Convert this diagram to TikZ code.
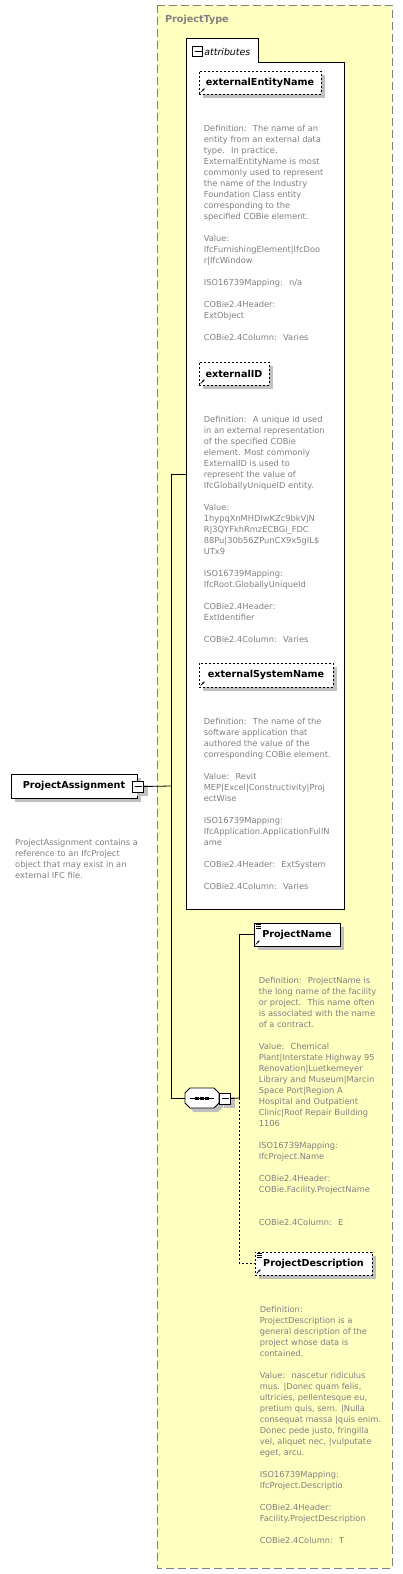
\documentclass[tikz,border=0pt]{standalone}
\usepackage{fontspec}
\setmainfont{DejaVu Sans}
\usetikzlibrary{positioning,shadows,arrows.meta}
\definecolor{frameyellow}{RGB}{255,255,192}
\definecolor{framegray}{RGB}{128,128,128}
\definecolor{docgray}{RGB}{128,128,128}
\definecolor{shadowgray}{RGB}{192,192,192}

\begin{document}
\begin{tikzpicture}[x=1pt,y=-1pt,
  every shadow/.style={shadow xshift=4pt,shadow yshift=-4pt,fill=shadowgray,opacity=1},
  elem/.style={draw,fill=white,line width=0.8pt,font=\bfseries\fontsize{9.6}{11}\selectfont,
    minimum height=23pt,inner sep=0pt,drop shadow},
  optelem/.style={elem,dash pattern=on 2pt off 2pt},
  doc/.style={anchor=north west,align=left,inner sep=0pt,text=docgray,
    font=\fontsize{8.3}{11}\selectfont},
  minusbox/.style={draw,fill=white,line width=0.8pt,minimum size=11pt,inner sep=0pt,
    path picture={\draw (path picture bounding box.west)++(2pt,0) -- ++(7pt,0);}},
  conn/.style={line width=0.8pt},
  optconn/.style={conn,dash pattern=on 2pt off 2pt}]
\useasboundingbox (0,0) rectangle (403,1574);

% complex type frame
\draw[fill=frameyellow,draw=framegray,line width=1pt,dash pattern=on 8pt off 4pt] (157,5) rectangle (392,1568);
\node[anchor=west,text=framegray,font=\bfseries\fontsize{9.6}{11}\selectfont,inner sep=0pt] (ptype) at (165,19.5) {ProjectType};

% attributes group
\draw[fill=white,line width=0.8pt] (186,909) -- (186,38) -- (258,38) -- (258,62) -- (344,62) -- (344,909) -- cycle;
\node[minusbox,line width=1.4pt,minimum size=10pt] (attmin) at (197.5,51.5) {};
\node[anchor=west,inner sep=0pt,font=\itshape\fontsize{9.4}{11}\selectfont] (attlbl) at ([xshift=1pt]attmin.east) {attributes};
\coordinate (attin) at (186,474);

% root element
\node[elem,minimum width=126pt,minimum height=24pt] (pa) at (74,786) {ProjectAssignment};
\node[minusbox,drop shadow] (pamin) at (138,786.5) {};
\node[doc] (padoc) at (15,839) {ProjectAssignment contains a\\reference to an IfcProject\\object that may exist in an\\external IFC file.};

% attributes
\node[optelem,minimum width=122pt] (extEntity) at (260,82.5) {externalEntityName};
\node[doc] (extEntityDoc) at ([shift={(5,31)}]extEntity.south west) {Definition:~ The name of an\\entity from an external data\\type.~ In practice,\\ExternalEntityName is most\\commonly used to represent\\the name of the Industry\\Foundation Class entity\\corresponding to the\\specified COBie element.\\[11pt]Value:\\IfcFurnishingElement|IfcDoo\\r|IfcWindow\\[11pt]ISO16739Mapping:~ n/a\\[11pt]COBie2.4Header:\\ExtObject\\[11pt]COBie2.4Column:~ Varies};

\node[optelem,minimum width=70pt] (extID) at (234,373.5) {externalID};
\node[doc] (extIDDoc) at ([shift={(5,31)}]extID.south west) {Definition:~ A unique id used\\in an external representation\\of the specified COBie\\element. Most commonly\\ExternalID is used to\\represent the value of\\IfcGloballyUniqueID entity.\\[11pt]Value:\\1hypqXnMHDlwKZc9bkVjN\\R|3QYFkhRmzECBGi\_FDC\\88Pu|30b56ZPunCX9x5gIL\$\\UTx9\\[11pt]ISO16739Mapping:\\IfcRoot.GloballyUniqueId\\[11pt]COBie2.4Header:\\ExtIdentifier\\[11pt]COBie2.4Column:~ Varies};

\node[optelem,minimum width=134pt,minimum height=24pt] (extSystem) at (266,675) {externalSystemName};
\node[doc] (extSystemDoc) at ([shift={(5,31)}]extSystem.south west) {Definition:~ The name of the\\software application that\\authored the value of the\\corresponding COBie element.\\[11pt]Value:~ Revit\\MEP|Excel|Constructivity|Proj\\ectWise\\[11pt]ISO16739Mapping:\\IfcApplication.ApplicationFullN\\ame\\[11pt]COBie2.4Header:~ ExtSystem\\[11pt]COBie2.4Column:~ Varies};

% sequence
\fill[shadowgray] (194,1092) -- (218,1092) -- (223,1097) -- (223,1107) -- (218,1112) -- (194,1112) -- (189,1107) -- (189,1097) -- cycle;
\draw[fill=white,line width=0.8pt] (190,1088) -- (214,1088) -- (219,1093) -- (219,1103) -- (214,1108) -- (190,1108) -- (185,1103) -- (185,1093) -- cycle;
\node[minimum width=34pt,minimum height=20pt,inner sep=0pt] (seq) at (202,1098) {};
\draw[conn] ([xshift=5pt]seq.west) -- ([xshift=-5pt]seq.east);
\foreach \dx in {-5,0,5}
  \fill ([xshift=\dx pt]seq.center) +(-1.8pt,-1.5pt) rectangle +(1.8pt,1.5pt);
\node[minusbox,drop shadow] (seqmin) at (225,1098.5) {};

% child elements
\node[elem,minimum width=86pt] (pname) at (297,934.5) {ProjectName};
\node[doc] (pnameDoc) at ([shift={(5,31)}]pname.south west) {Definition:~ ProjectName is\\the long name of the facility\\or project.~ This name often\\is associated with the name\\of a contract.\\[11pt]Value:~ Chemical\\Plant|Interstate Highway 95\\Renovation|Luetkemeyer\\Library and Museum|Marcin\\Space Port|Region A\\Hospital and Outpatient\\Clinic|Roof Repair Building\\1106\\[11pt]ISO16739Mapping:\\IfcProject.Name\\[11pt]COBie2.4Header:\\COBie.Facility.ProjectName\\[22pt]COBie2.4Column:~ E};

\node[optelem,minimum width=117pt] (pdesc) at (313.5,1263.5) {ProjectDescription};
\node[doc] (pdescDoc) at ([shift={(5,31)}]pdesc.south west) {Definition:\\ProjectDescription is a\\general description of the\\project whose data is\\contained.\\[11pt]Value:~ nascetur ridiculus\\mus. |Donec quam felis,\\ultricies, pellentesque eu,\\pretium quis, sem. |Nulla\\consequat massa |quis enim.\\Donec pede justo, fringilla\\vel, aliquet nec, |vulputate\\eget, arcu.\\[11pt]ISO16739Mapping:\\IfcProject.Descriptio\\[11pt]COBie2.4Header:\\Facility.ProjectDescription\\[11pt]COBie2.4Column:~ T};

% icons
\foreach \n in {extEntity,extID,extSystem,pname,pdesc}
  \draw[-{Stealth[length=2.5pt,width=2.5pt]},line width=0.7pt] ([shift={(2,-2)}]\n.south west) -- ++(4,-4);
\foreach \n in {pname,pdesc}
  \foreach \dy in {2,4,6}
    \draw[line width=0.6pt] ([shift={(2,\dy)}]\n.north west) -- ++(5,0);

% connectors
\coordinate (trunk) at (171,786);
\coordinate (branch) at (239,1098);
\draw[conn] (pamin.east) -- (trunk);
\draw[conn] (attin -| trunk) -- (seq.west -| trunk);
\draw[conn] (attin -| trunk) -- (attin);
\draw[conn] (seq.west -| trunk) -- (seq.west);
\draw[conn] (seqmin.east) -- (branch);
\draw[conn] (branch) |- (pname.west);
\draw[optconn] (branch) |- (pdesc.west);
\end{tikzpicture}
\end{document}
